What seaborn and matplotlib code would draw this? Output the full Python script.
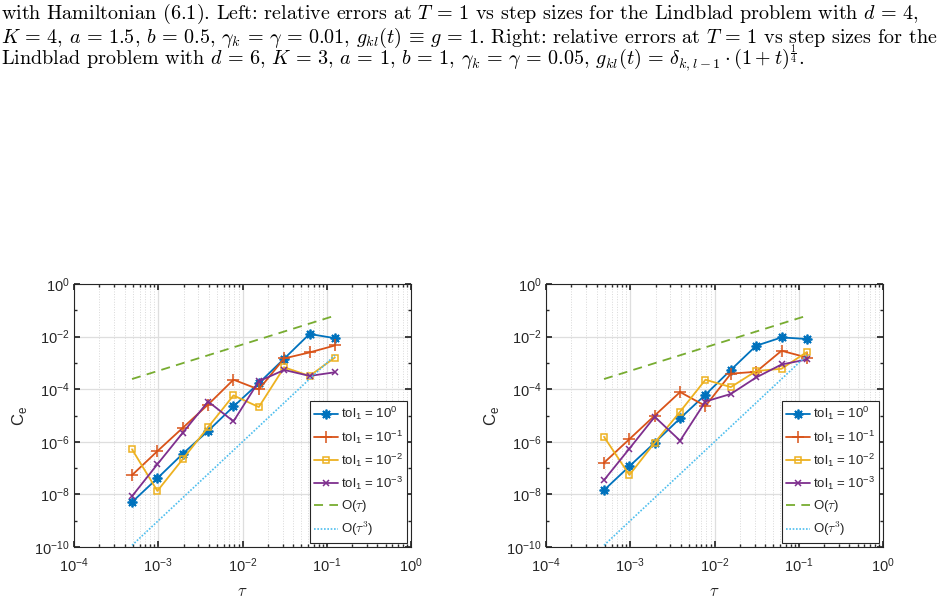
import matplotlib.pyplot as plt
import matplotlib.ticker as mticker
import pandas as pd
import seaborn as sns

# step sizes tau
tau = [4.8828125e-4, 9.765625e-4, 1.953125e-3, 3.90625e-3, 7.8125e-3,
       1.5625e-2, 3.125e-2, 6.25e-2, 0.125]

# left panel errors
left_tol0 = [5.1e-9, 4.1e-8, 3.5e-7, 2.6e-6, 2.2e-5, 1.7e-4, 1.45e-3, 1.26e-2, 8.7e-3]
left_tol1 = [5.4e-8, 4.4e-7, 3.4e-6, 2.6e-5, 2.3e-4, 9.8e-5, 1.48e-3, 2.5e-3, 4.6e-3]
left_tol2 = [5.2e-7, 1.35e-8, 2.2e-7, 3.6e-6, 5.8e-5, 2.1e-5, 6.8e-4, 3.2e-4, 1.6e-3]
left_tol3 = [8.5e-9, 1.4e-7, 2.2e-6, 3.4e-5, 6.0e-6, 2.0e-4, 5.4e-4, 3.2e-4, 4.4e-4]

# right panel errors
right_tol0 = [1.45e-8, 1.17e-7, 9.3e-7, 7.8e-6, 6.2e-5, 5.4e-4, 4.5e-3, 9.3e-3, 8.1e-3]
right_tol1 = [1.6e-7, 1.26e-6, 1.0e-5, 7.8e-5, 2.3e-5, 3.9e-4, 4.6e-4, 2.9e-3, 1.6e-3]
right_tol2 = [1.55e-6, 5.5e-8, 9.3e-7, 1.4e-5, 2.3e-4, 1.2e-4, 4.9e-4, 6.0e-4, 2.6e-3]
right_tol3 = [3.5e-8, 5.5e-7, 8.9e-6, 1.1e-6, 3.4e-5, 6.6e-5, 2.8e-4, 8.7e-4, 1.35e-3]

# reference slopes
ref_order1 = [2.44e-4, 4.88e-4, 9.77e-4, 1.95e-3, 3.91e-3, 7.81e-3, 1.56e-2, 3.13e-2, 6.25e-2]
ref_order3 = [1.16e-10, 9.31e-10, 7.45e-9, 5.96e-8, 4.77e-7, 3.81e-6, 3.05e-5, 2.44e-4, 1.95e-3]

labels = ['tol$_\\mathregular{1}$ = 10$^\\mathregular{0}$',
          'tol$_\\mathregular{1}$ = 10$^\\mathregular{-1}$',
          'tol$_\\mathregular{1}$ = 10$^\\mathregular{-2}$',
          'tol$_\\mathregular{1}$ = 10$^\\mathregular{-3}$',
          'O($\\tau$)', 'O($\\tau^3$)']
colors = ['#0072BD', '#D95319', '#EDB120', '#7E2F8E', '#77AC30', '#4DBEEE']

caption = [
    "with Hamiltonian (6.1). Left: relative errors at $T\\,=\\,1$ vs step sizes for the Lindblad problem with $d\\,=\\,4$,",
    "$K\\,=\\,4$, $a\\,=\\,1.5$, $b\\,=\\,0.5$, $\\gamma_k\\,=\\,\\gamma\\,=\\,0.01$, $g_{kl}(t)\\,\\equiv\\,g\\,=\\,1$. Right: relative errors at $T\\,=\\,1$ vs step sizes for the",
    "Lindblad problem with $d\\,=\\,6$, $K\\,=\\,3$, $a\\,=\\,1$, $b\\,=\\,1$, $\\gamma_k\\,=\\,\\gamma\\,=\\,0.05$, $g_{kl}(t)\\,=\\,\\delta_{k,l-1}\\cdot(1+t)^{\\genfrac{}{}{0.5}{1}{1}{4}}$.",
]

sns.set_theme(style="ticks")
plt.rcParams['font.family'] = ['Liberation Sans', 'DejaVu Sans']
plt.rcParams['axes.unicode_minus'] = False
plt.rcParams['mathtext.default'] = 'it'

fig = plt.figure(figsize=(9.44, 5.99), dpi=100)
ax1 = fig.add_axes([74/944, 1-547/599, 337/944, 263/599])
ax2 = fig.add_axes([546/944, 1-547/599, 337/944, 263/599])


def draw(ax, series):
    ax.set_xscale('log')
    ax.set_yscale('log')
    markers = [(8, 2, 0), '+', 's', 'x']
    sizes = [7, 8, 5, 5]
    for i, ys in enumerate(series):
        df = pd.DataFrame({'tau': tau, 'err': ys})
        sns.lineplot(data=df, x='tau', y='err', ax=ax, color=colors[i],
                     marker=markers[i], markersize=sizes[i], lw=1.3,
                     markerfacecolor=colors[i] if i == 0 else 'none',
                     markeredgecolor=colors[i], markeredgewidth=1.3 if i == 0 else 1.1,
                     label=labels[i])
    df = pd.DataFrame({'tau': tau, 'err': ref_order1})
    sns.lineplot(data=df, x='tau', y='err', ax=ax, color=colors[4],
                 linestyle=(0, (5, 3.5)), lw=1.3, label=labels[4])
    df = pd.DataFrame({'tau': tau, 'err': ref_order3})
    sns.lineplot(data=df, x='tau', y='err', ax=ax, color=colors[5],
                 linestyle=(0, (1, 1)), lw=1.2, label=labels[5])

    ax.set_xlim(1e-4, 1)
    ax.set_ylim(1e-10, 1)
    ax.xaxis.set_major_locator(mticker.LogLocator(base=10, numticks=10))
    ax.xaxis.set_minor_locator(mticker.LogLocator(base=10, subs=range(2, 10), numticks=20))
    ax.xaxis.set_minor_formatter(mticker.NullFormatter())
    ax.yaxis.set_major_locator(mticker.FixedLocator([1e-10, 1e-8, 1e-6, 1e-4, 1e-2, 1]))
    ax.yaxis.set_minor_locator(mticker.FixedLocator([1e-9, 1e-7, 1e-5, 1e-3, 1e-1]))
    ax.yaxis.set_minor_formatter(mticker.NullFormatter())
    ax.grid(which='major', color='#dedede', lw=0.9)
    ax.grid(which='minor', axis='x', color='#d8d8d8', lw=0.7, linestyle=':')
    ax.tick_params(which='both', direction='in', top=True, right=True,
                   color='#262626', labelsize=10.5, labelcolor='#262626')
    ax.tick_params(which='major', length=4)
    ax.tick_params(which='minor', length=2)
    ax.tick_params(axis='x', which='major', pad=7)
    ax.tick_params(axis='y', which='major', pad=3)
    for s in ax.spines.values():
        s.set_color('#262626')
        s.set_linewidth(0.8)
    ax.set_xlabel('$\\tau$', fontsize=12, math_fontfamily='cm', color='#262626', labelpad=6)
    ax.set_ylabel('C$_\\mathregular{e}$', fontsize=12, color='#262626', labelpad=4)
    leg = ax.legend(loc='lower right', fontsize=9.5, frameon=True, fancybox=False,
                    framealpha=1, edgecolor='#262626', borderaxespad=0.3,
                    handlelength=1.8, handletextpad=0.2, labelspacing=0.45,
                    borderpad=0.35)
    leg.get_frame().set_linewidth(0.8)
    for t in leg.get_texts()[4:]:
        t.set_math_fontfamily('cm')


draw(ax1, [left_tol0, left_tol1, left_tol2, left_tol3])
draw(ax2, [right_tol0, right_tol1, right_tol2, right_tol3])

for i, (line, base) in enumerate(zip(caption, [19, 43, 65])):
    fig.text(0.001, 1 - base / 599, line, ha='left', va='baseline',
             fontsize=14.5, family='cmr10', math_fontfamily='cm', color='black')

fig.savefig('out.png', dpi=100)
